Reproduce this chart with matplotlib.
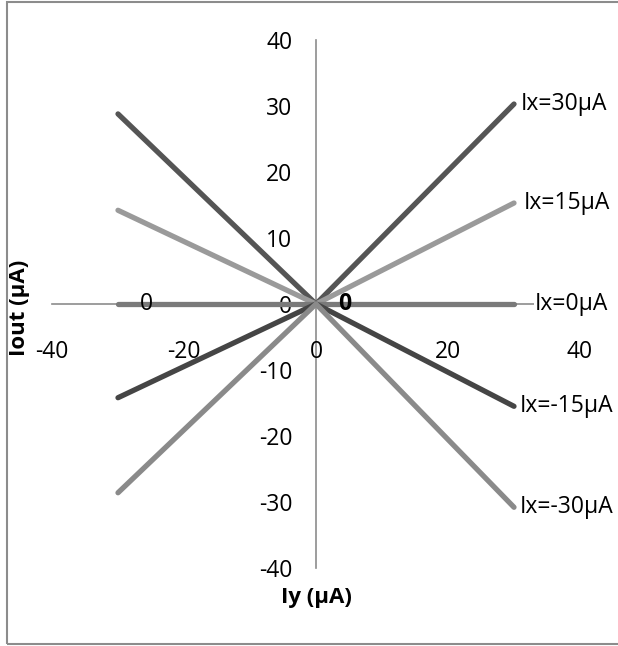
import matplotlib
matplotlib.use("Agg")
import matplotlib.pyplot as plt
import matplotlib.patches as mpatch

plt.rcParams['font.family'] = ['Open Sans', 'DejaVu Sans']
plt.rcParams['axes.unicode_minus'] = False

# data
iy = [-30, 0, 30]
series_names = ['Ix=30µA', 'Ix=15µA', 'Ix=0µA', 'Ix=-15µA', 'Ix=-30µA']
iout_30 = [28.8, 0, 30.3]
iout_15 = [14.2, 0, 15.3]
iout_0 = [0, 0, 0]
iout_m15 = [-14.2, 0, -15.5]
iout_m30 = [-28.6, 0, -30.8]
ticks = [-40, -20, 0, 20, 40]
yticks = [-40, -30, -20, -10, 0, 10, 20, 30, 40]

# grey ramps like the excel original
colors = ['#555555', '#9a9a9a', '#7a7a7a', '#454545', '#8a8a8a']
label_off = [1.0, 1.5, 3.2, 0.8, 0.8]

fig = plt.figure(figsize=(6.18, 6.46), dpi=100)
ax = fig.add_axes([52/618, 78/646, 528/618, 528/646])

all_series = [iout_30, iout_15, iout_0, iout_m15, iout_m30]
for i in range(len(all_series)):
	s = all_series[i]
	ax.plot(iy, s, color=colors[i], lw=3.8, solid_capstyle='round', zorder=3)
	ax.text(iy[-1] + label_off[i], s[-1], series_names[i], fontsize=16.5, va='center', ha='left',
			bbox=dict(facecolor='white', edgecolor='none', pad=0.5), zorder=4)

# data labels of the Ix=0 series
ax.text(iy[0] + 4.3, 0, '0', fontsize=16.5, ha='center', va='center', zorder=4)
ax.text(iy[1] + 4.3, 0, '0', fontsize=16.5, ha='center', va='center', fontweight='bold', zorder=4)

ax.set_xlim(-40, 40)
ax.set_ylim(-40, 40)
ax.spines['left'].set_position(('data', 0))
ax.spines['bottom'].set_position(('data', 0))
ax.spines['top'].set_visible(False)
ax.spines['right'].set_visible(False)
for sp in ['left', 'bottom']:
	ax.spines[sp].set_color('#8c8c8c')
	ax.spines[sp].set_linewidth(1.2)
	ax.spines[sp].set_zorder(1)

ax.set_xticks(ticks)
ax.set_yticks(yticks)
ax.tick_params(axis='x', length=0, pad=26, labelsize=16.5)
ax.tick_params(axis='y', length=0, pad=17, labelsize=16.5)
ax.patch.set_alpha(0)

fig.text(20/618, 1 - 308/646, 'Iout (µA)', rotation=90, fontsize=16, fontweight='bold',
		 ha='center', va='center')
fig.text(316/618, 1 - 598/646, 'Iy (µA)', fontsize=16, fontweight='bold', ha='center', va='center')

# outer frame (cut on the right like the original)
frame = mpatch.Rectangle((7/618, 2/646), 1.2, 642/646, transform=fig.transFigure,
						 fill=False, edgecolor='#8c8c8c', lw=1.5, clip_on=False)
fig.patches.append(frame)

fig.savefig('out.png', dpi=100)
